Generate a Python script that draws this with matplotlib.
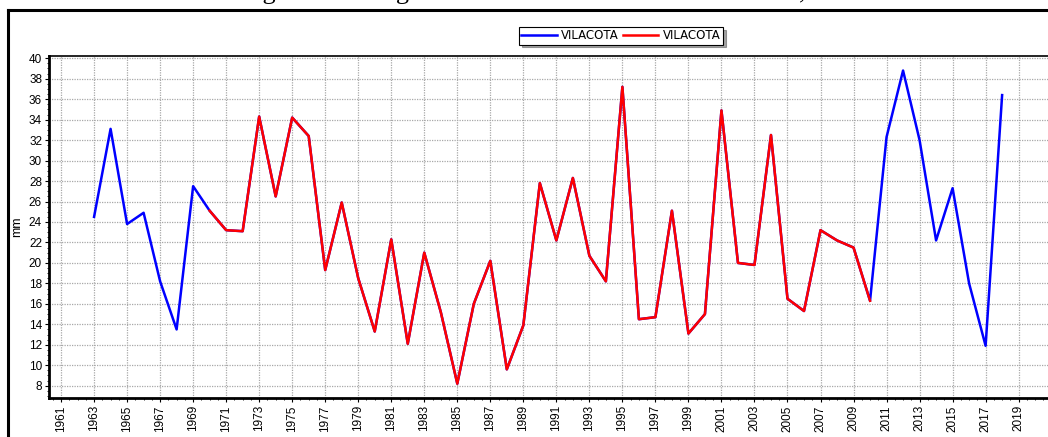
import matplotlib
matplotlib.use("Agg")
import matplotlib.pyplot as plt
from matplotlib.lines import Line2D
from matplotlib.ticker import MultipleLocator

# annual values (mm), full series and the overlapping original record
years = list(range(1963, 2019))
vilacota_full = [24.5, 33.1, 23.8, 24.9, 18.2, 13.5, 27.5, 25.1, 23.2, 23.1,
                 34.3, 26.5, 34.2, 32.4, 19.3, 25.9, 18.5, 13.3, 22.3, 12.1,
                 21.0, 15.2, 8.2, 16.0, 20.2, 9.6, 13.9, 27.8, 22.2, 28.3,
                 20.7, 18.2, 37.2, 14.5, 14.7, 25.1, 13.1, 15.0, 34.9, 20.0,
                 19.8, 32.5, 16.5, 15.3, 23.2, 22.2, 21.5, 16.3, 32.3, 38.8,
                 32.0, 22.2, 27.3, 18.0, 11.9, 36.4]
red_years = years[7:48]          # 1970 .. 2010
vilacota_red = vilacota_full[7:48]

title_text = "Histograma de Registros Máximos Anuales en 24 Horas, Estación VILACOTA"
legend_labels = ["VILACOTA", "VILACOTA"]

W, H = 1048, 437
fig = plt.figure(figsize=(W / 100, H / 100), dpi=100)
# axes run past the right edge of the picture, as in the reference
ax = fig.add_axes([49 / W, 1 - 398.3 / H, (1070 - 49) / W, (398.3 - 55.7) / H])

ax.plot(years, vilacota_full, color="#0000FF", lw=1.8, label=legend_labels[0])
ax.plot(red_years, vilacota_red, color="#FF0000", lw=1.8, label=legend_labels[1])

ax.set_xlim(1960.27, 1960.27 + (1070 - 49) / 16.51)
ax.set_ylim(6.77, 40.25)
ax.xaxis.set_minor_locator(MultipleLocator(0.5))
ax.set_xticks(list(range(1961, 2021, 2)))
ax.yaxis.set_minor_locator(MultipleLocator(0.5))
ax.set_yticks(list(range(8, 41, 2)))

ax.grid(True, which="major", color="#a8a8a8", linestyle=(0, (1, 1)), lw=0.9)
ax.tick_params(axis="both", which="major", labelsize=8.5, length=3, width=0.8,
               direction="out", pad=2)
ax.tick_params(axis="both", which="minor", length=1.5, width=0.6, direction="out")
for lab in ax.get_xticklabels():
    lab.set_rotation(90)
    lab.set_family("Liberation Sans")
for lab in ax.get_yticklabels():
    lab.set_family("Liberation Sans")

ax.set_ylabel("mm", fontsize=9, family="Liberation Sans", labelpad=4)

ax.spines["left"].set_linewidth(2)
ax.spines["bottom"].set_linewidth(2)
ax.spines["top"].set_linewidth(1.2)
ax.spines["right"].set_visible(False)

leg = ax.legend(ncol=2, loc="upper left", bbox_to_anchor=(513 / W, 1 - 21 / H),
                bbox_transform=fig.transFigure, frameon=True,
                fancybox=False, shadow=True, edgecolor="black", borderpad=0.2,
                handlelength=3.0, handletextpad=0.4, columnspacing=0.3,
                prop={"family": "Liberation Sans Narrow", "size": 8.5})
leg.get_frame().set_linewidth(0.8)

# outer chart frame (only left and top edges are in view)
fig.add_artist(Line2D([8 / W, 8 / W], [0, 1 - 10 / H], color="black", lw=2.2,
                      transform=fig.transFigure))
fig.add_artist(Line2D([8 / W, 1], [1 - 10 / H, 1 - 10 / H], color="black", lw=2.2,
                      transform=fig.transFigure))

# title, cut off above the picture
fig.text(205 / W, 1 + 1 / H, title_text, ha="left", va="baseline",
         fontsize=19, family="Liberation Serif")

fig.savefig("out.png", dpi=100)
